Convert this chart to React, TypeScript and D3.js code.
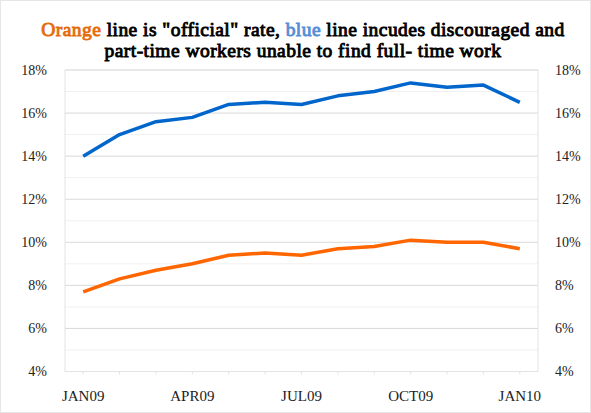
import React from "react";
import * as d3 from "d3";

const months = ["JAN09","FEB09","MAR09","APR09","MAY09","JUN09","JUL09","AUG09","SEP09","OCT09","NOV09","DEC09","JAN10"];
const tickLabels = ["JAN09","APR09","JUL09","OCT09","JAN10"];
const officialRate = [7.7, 8.3, 8.7, 9.0, 9.4, 9.5, 9.4, 9.7, 9.8, 10.1, 10.0, 10.0, 9.7];
const broadRate = [14.0, 15.0, 15.6, 15.8, 16.4, 16.5, 16.4, 16.8, 17.0, 17.4, 17.2, 17.3, 16.5];
const yTicks = [4, 6, 8, 10, 12, 14, 16, 18];
const yMinor = [5, 7, 9, 11, 13, 15, 17];

const W = 591, H = 413;
const L = 65, R = 538, T = 70, B = 371.5;
const FONT = "Liberation Serif, Times New Roman, serif";

export default function App() {
  const x = d3.scaleBand<string>().domain(months).range([L, R]);
  const xc = (m: string) => (x(m) as number) + x.bandwidth() / 2;
  const y = d3.scaleLinear().domain([4, 18]).range([B, T]);
  const line = d3.line<number>().x((_, i) => xc(months[i])).y((d) => y(d));
  const titleStyle: React.CSSProperties = { fontSize: "19.5px", fontWeight: 400, fontFamily: FONT, letterSpacing: "0.45px" };

  return (
    <svg width={W} height={H} style={{ position: "absolute", left: 0, top: 0, background: "#fff", fontFamily: FONT }}>
      <rect x={0.5} y={0.5} width={W - 1} height={H - 1} fill="#fff" stroke="#e6e6e6" />
      <text x={303} y={36} textAnchor="middle" style={titleStyle} fill="#000" stroke="#000" strokeWidth={0.9}>
        <tspan fill="#E46C0A" stroke="#E46C0A">Orange</tspan> line is "official" rate, <tspan fill="#558ED5" stroke="#558ED5">blue</tspan> line incudes discouraged and
      </text>
      <text x={303} y={57} textAnchor="middle" style={titleStyle} fill="#000" stroke="#000" strokeWidth={0.9}>
        part-time workers unable to find full- time work
      </text>
      {yMinor.map((t) => (
        <line key={"m" + t} x1={L} x2={R} y1={y(t)} y2={y(t)} stroke="#f0f0f0" strokeWidth={1} />
      ))}
      {yTicks.map((t) => (
        <line key={"g" + t} x1={L} x2={R} y1={y(t)} y2={y(t)} stroke="#d9d9d9" strokeWidth={1} />
      ))}
      <rect x={L} y={T} width={R - L} height={B - T} fill="none" stroke="#e3e3e3" strokeWidth={1} />
      {months.map((m) => (
        <line key={"t" + m} x1={xc(m)} x2={xc(m)} y1={B} y2={B + 3} stroke="#e3e3e3" />
      ))}
      {yTicks.map((t) => (
        <text key={"l" + t} x={47} y={y(t)} dy="0.35em" textAnchor="end" fontSize={14} fill="#222">{t}%</text>
      ))}
      {yTicks.map((t) => (
        <text key={"r" + t} x={555} y={y(t)} dy="0.35em" textAnchor="start" fontSize={14} fill="#222">{t}%</text>
      ))}
      {tickLabels.map((m) => (
        <text key={"x" + m} x={xc(m)} y={401} textAnchor="middle" fontSize={15} fill="#222">{m}</text>
      ))}
      <path d={line(broadRate) as string} fill="none" stroke="#0066CC" strokeWidth={3.5} strokeLinejoin="round" />
      <path d={line(officialRate) as string} fill="none" stroke="#FF6600" strokeWidth={3.5} strokeLinejoin="round" />
    </svg>
  );
}
